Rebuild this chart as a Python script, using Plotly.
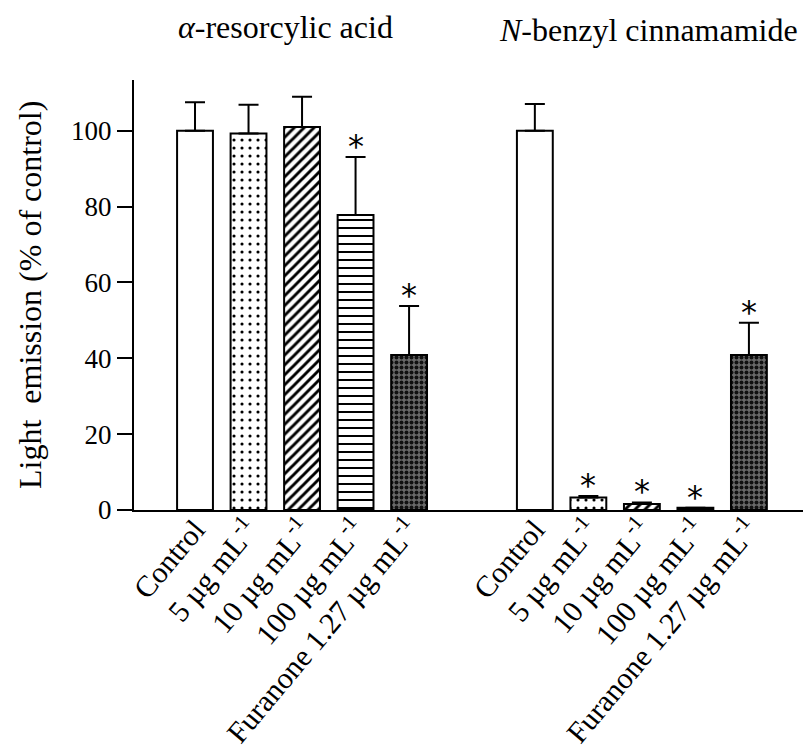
import plotly.graph_objects as go

# ---------------- data ----------------
categories = ["Control", "5 µg mL<sup>-1</sup>", "10 µg mL<sup>-1</sup>",
              "100 µg mL<sup>-1</sup>", "Furanone 1.27 µg mL<sup>-1</sup>"]
group_titles = ["<i>α</i>-resorcylic acid", "<i>N</i>-benzyl cinnamamide"]

resorcylic_values = [100.0, 99.3, 101.0, 77.8, 40.9]
resorcylic_errors = [7.5, 7.6, 8.0, 15.3, 12.9]
resorcylic_signif = [False, False, False, True, True]

cinnamamide_values = [100.0, 3.3, 1.6, 0.6, 40.9]
cinnamamide_errors = [7.1, 0.4, 0.4, 0.0, 8.5]
cinnamamide_signif = [False, True, True, True, True]

y_ticks = [0, 20, 40, 60, 80, 100]

# ---------------- layout helpers ----------------
group_gap = 6.35          # offset of the second group on the numeric x axis
n = len(categories)
x_left = [i for i in range(n)]
x_right = [group_gap + i for i in range(n)]

styles = [
    dict(shape="", bgcolor="white", fgcolor="black", size=8, solidity=0.2),
    dict(shape=".", bgcolor="white", fgcolor="black", size=8, solidity=0.12),
    dict(shape="/", bgcolor="white", fgcolor="black", size=7, solidity=0.42),
    dict(shape="-", bgcolor="white", fgcolor="black", size=8, solidity=0.25),
    dict(shape=".", bgcolor="#6a6a6a", fgcolor="#111111", size=5, solidity=0.5),
]

FONT = "Liberation Serif"

fig = go.Figure()
for i in range(n):
    st = styles[i]
    fig.add_trace(go.Bar(
        x=[x_left[i], x_right[i]],
        y=[resorcylic_values[i], cinnamamide_values[i]],
        width=0.67,
        marker=dict(
            color=st["bgcolor"],
            line=dict(color="black", width=2),
            pattern=dict(shape=st["shape"], bgcolor=st["bgcolor"],
                         fgcolor=st["fgcolor"], size=st["size"],
                         solidity=st["solidity"], fillmode="replace"),
        ),
        error_y=dict(type="data", symmetric=False,
                     array=[resorcylic_errors[i], cinnamamide_errors[i]],
                     arrayminus=[0, 0], color="black", thickness=2, width=10),
        showlegend=False, hoverinfo="skip",
    ))

# significance stars
for gx, gv, ge, gs in [(x_left, resorcylic_values, resorcylic_errors, resorcylic_signif),
                       (x_right, cinnamamide_values, cinnamamide_errors, cinnamamide_signif)]:
    for x, v, e, s in zip(gx, gv, ge, gs):
        if s:
            fig.add_annotation(x=x, y=v + e, text="*", showarrow=False,
                               xref="x", yref="y", yanchor="bottom", yshift=-10,
                               font=dict(family="DejaVu Sans", size=32, color="black"))

# group titles
for gx, title, xs_, ys_ in zip([x_left, x_right], group_titles, [-17, 7], [33, 30]):
    fig.add_annotation(x=(gx[0] + gx[-1]) / 2, y=1, xref="x", yref="paper",
                       yanchor="bottom", xshift=xs_, yshift=ys_, text=title,
                       showarrow=False,
                       font=dict(family=FONT, size=32, color="black"))

# y axis title
fig.add_annotation(x=0, y=0.5, xref="paper", yref="paper", xshift=-104,
                   text="Light\u00a0 emission (% of control)", textangle=-90,
                   showarrow=False, xanchor="center", yanchor="middle",
                   font=dict(family=FONT, size=32, color="black"))

# page body has an 8px margin: figure is sized/margined to compensate
fig.update_layout(
    width=803, height=746,
    margin=dict(l=126, r=0, t=72, b=244, autoexpand=False),
    plot_bgcolor="white", paper_bgcolor="white",
    font=dict(family=FONT, color="black"),
    barmode="overlay",
)
fig.update_xaxes(
    range=[-1.14, 11.51], tickvals=x_left + x_right, ticktext=categories * 2,
    tickangle=-50, ticks="", showline=True, linecolor="black", linewidth=2,
    showgrid=False, zeroline=False, automargin=False, ticklabelstandoff=-12,
    tickfont=dict(family=FONT, size=30),
)
fig.update_yaxes(
    range=[0, 113.4], tickvals=y_ticks, ticks="outside", ticklen=15,
    tickwidth=2, tickcolor="black", showline=True, linecolor="black",
    linewidth=2, showgrid=False, zeroline=False, automargin=False,
    tickfont=dict(family=FONT, size=27),
)

fig.write_html("out.html")
